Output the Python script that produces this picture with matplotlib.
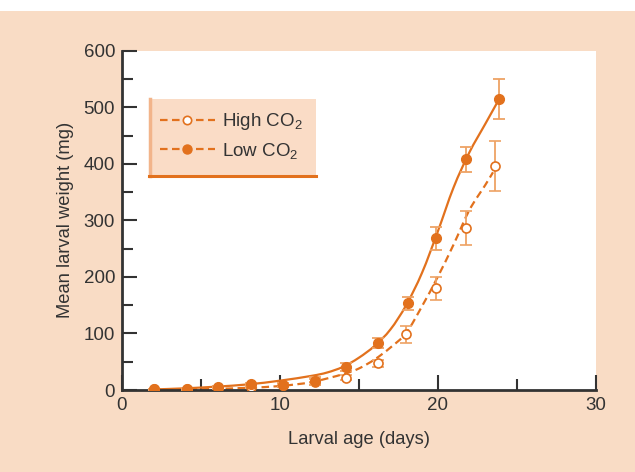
"""Mean larval weight vs larval age under high and low CO2."""

import matplotlib

matplotlib.use("Agg")

import matplotlib.pyplot as plt
import numpy as np
from matplotlib.lines import Line2D
from matplotlib.patches import PathPatch, Rectangle
from matplotlib.path import Path
from matplotlib.ticker import MultipleLocator

# measured means (mg) with error bars
days_low = [2.0, 4.1, 6.1, 8.2, 10.2, 12.2, 14.2, 16.2, 18.1, 19.9, 21.8, 23.9]
low_mean = [1, 1, 5, 10, 9, 16, 40, 83, 153, 268, 408, 515]
low_err = [1, 1, 2, 3, 4, 7, 7, 9, 12, 20, 22, 35]

days_high = [2.0, 4.1, 6.1, 8.2, 10.2, 12.2, 14.2, 16.2, 18.0, 19.9, 21.8, 23.6]
high_mean = [1, 1, 3, 6, 8, 14, 22, 47, 99, 180, 287, 396]
high_err = [1, 1, 1, 2, 3, 5, 4, 6, 15, 20, 30, 44]

# fitted curves
fit_low_x = [2, 4, 6, 8, 10, 12, 13, 14, 15, 16, 17, 18, 19, 20, 21, 22, 23, 23.9]
fit_low_y = [1, 3, 6, 10, 16.5, 25, 31, 41, 57, 78, 107, 150, 207, 280, 358, 420, 470, 515]
fit_high_x = [2, 4, 6, 8, 10, 12, 14, 15, 16, 17, 18, 19, 20, 21, 22, 23, 23.5]
fit_high_y = [0.5, 1, 2, 4, 7, 14, 28, 38, 54, 75, 101, 148, 200, 257, 318, 362, 385]

ORANGE = "#e2711d"
ERR = "#eea264"
PEACH = "#f9dcc5"
INK = "#333333"
FS = 13.5


def smooth_path(xs, ys):
    """Catmull-Rom through the points, as cubic Bezier segments."""
    pts = np.column_stack([xs, ys]).astype(float)
    ext = np.vstack([pts[0], pts, pts[-1]])
    verts = [pts[0]]
    codes = [Path.MOVETO]
    for i in range(1, len(ext) - 2):
        p0, p1, p2, p3 = ext[i - 1], ext[i], ext[i + 1], ext[i + 2]
        verts += [p1 + (p2 - p0) / 6, p2 - (p3 - p1) / 6, p2]
        codes += [Path.CURVE4] * 3
    return Path(verts, codes)


plt.rcParams["font.family"] = ["Liberation Sans", "DejaVu Sans"]
plt.rcParams["mathtext.fontset"] = "custom"
plt.rcParams["mathtext.rm"] = "Liberation Sans"
plt.rcParams["mathtext.default"] = "regular"

fig = plt.figure(figsize=(6.35, 4.72), dpi=100, facecolor=PEACH)
# white strip along the top edge
fig.patches.append(Rectangle((0, 1 - 11 / 472), 1, 11 / 472, transform=fig.transFigure,
                             facecolor="white", edgecolor="none", zorder=0))
ax = fig.add_axes([0.1921, 0.1737, 0.7459, 0.7189])
ax.set_facecolor("white")

dash = (0, (3.4, 2.0))
ax.add_patch(PathPatch(smooth_path(fit_high_x, fit_high_y), fill=False, edgecolor=ORANGE,
                       lw=1.6, linestyle=dash, zorder=2))
ax.add_patch(PathPatch(smooth_path(fit_low_x, fit_low_y), fill=False, edgecolor=ORANGE,
                       lw=1.6, zorder=2))

ax.errorbar(days_high, high_mean, yerr=high_err, fmt="o", color=ORANGE, ecolor=ERR,
            elinewidth=1.3, capsize=4, capthick=1.3, markersize=6.5,
            markerfacecolor="white", markeredgecolor=ORANGE, markeredgewidth=1.2, zorder=3)
ax.errorbar(days_low, low_mean, yerr=low_err, fmt="o", color=ORANGE, ecolor=ERR,
            elinewidth=1.3, capsize=4, capthick=1.3, markersize=7,
            markerfacecolor=ORANGE, markeredgecolor=ORANGE, zorder=4)

ax.set_xlim(0, 30)
ax.set_ylim(0, 600)
ax.xaxis.set_major_locator(MultipleLocator(10))
ax.xaxis.set_minor_locator(MultipleLocator(5))
ax.yaxis.set_major_locator(MultipleLocator(100))
ax.yaxis.set_minor_locator(MultipleLocator(50))
ax.tick_params(which="both", direction="in", colors=INK, width=1.5, labelsize=FS)
ax.tick_params(which="major", length=11, pad=5)
ax.tick_params(which="minor", length=8)
for side in ("top", "right"):
    ax.spines[side].set_visible(False)
for side in ("left", "bottom"):
    ax.spines[side].set_color(INK)
    ax.spines[side].set_linewidth(2)

ax.set_xlabel("Larval age (days)", fontsize=13.2, color=INK, labelpad=12)
ax.set_ylabel("Mean larval weight (mg)", fontsize=13.2, color=INK, labelpad=7)

# legend box
ax.add_patch(Rectangle((0.057, 0.628), 0.353, 0.23, transform=ax.transAxes,
                       facecolor="#fadcc6", edgecolor="none", zorder=5))
ax.add_line(Line2D([0.060, 0.060], [0.630, 0.858], transform=ax.transAxes,
                   color="#f2b48a", lw=2.5, zorder=6))
ax.add_line(Line2D([0.057, 0.410], [0.630, 0.630], transform=ax.transAxes,
                   color=ORANGE, lw=2.2, zorder=6))

handles = [
    Line2D([], [], color=ORANGE, lw=1.6, linestyle=dash, marker="o", markersize=6,
           markerfacecolor="white", markeredgecolor=ORANGE, markeredgewidth=1.2),
    Line2D([], [], color=ORANGE, lw=1.6, linestyle=dash, marker="o", markersize=6.5,
           markerfacecolor=ORANGE, markeredgecolor=ORANGE),
]
leg = ax.legend(handles, ["High CO$_2$", "Low CO$_2$"], loc="upper left",
                bbox_to_anchor=(0.073, 0.832), frameon=False, fontsize=FS,
                handlelength=2.9, handletextpad=0.4, labelspacing=0.45,
                borderaxespad=0, borderpad=0.2)
for t in leg.get_texts():
    t.set_color(INK)
leg.set_zorder(7)

fig.savefig("out.png", dpi=100, facecolor=PEACH)
